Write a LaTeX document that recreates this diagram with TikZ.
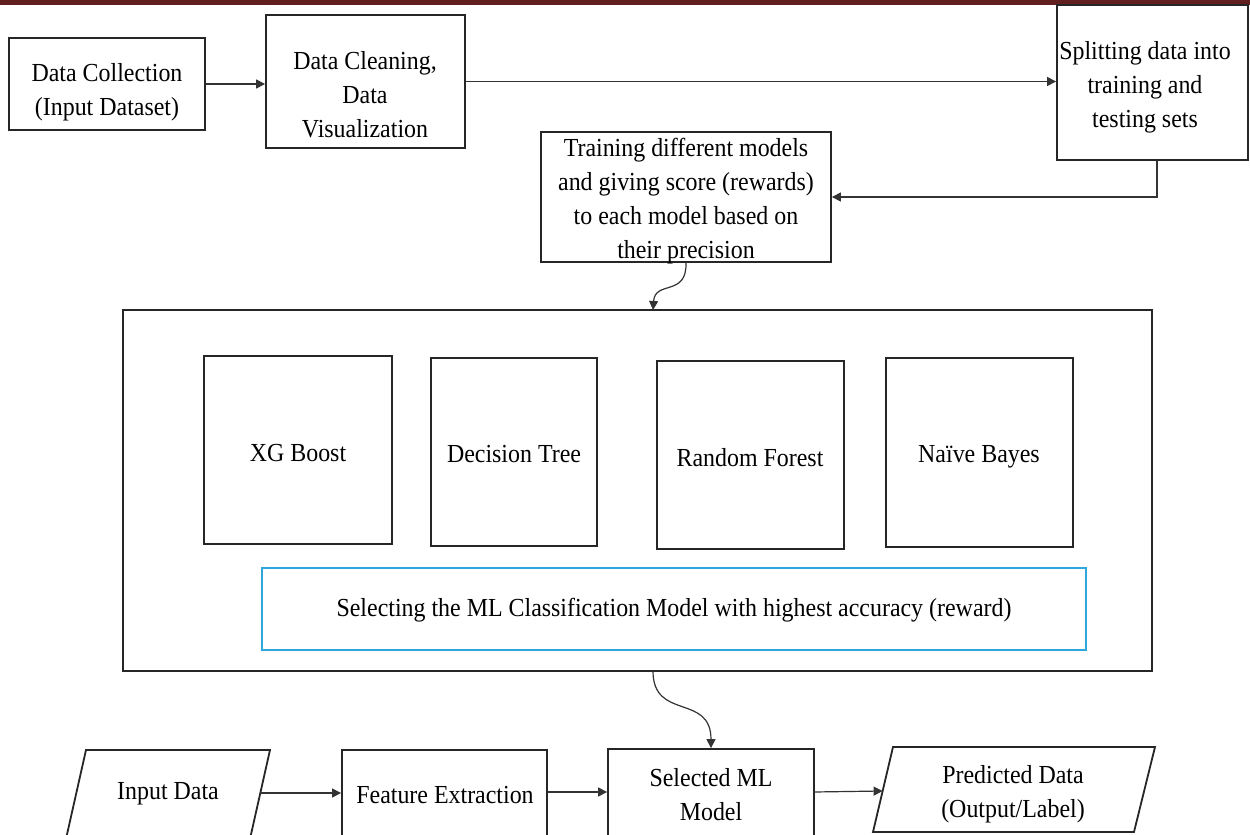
\documentclass[tikz,border=0pt]{standalone}
\usepackage{fontspec}
\setmainfont{Liberation Serif}
\usetikzlibrary{arrows.meta,fit}
\definecolor{barred}{HTML}{631F1F}
\definecolor{selblue}{HTML}{2FA6DC}
\begin{document}
\begin{tikzpicture}[x=0.5pt,y=-0.5pt,
  box/.style={draw=black!85, line width=0.9pt, inner sep=0pt},
  txt/.style={align=center, font=\rmfamily\fontsize{13}{17}\selectfont, inner sep=0pt,
              xscale=0.92, transform shape},
  link/.style={draw=black!80, line width=0.6pt, -{Triangle[length=4.5pt,width=4.5pt]}},
  slanted/.style={draw=black!85, line width=0.9pt},
]
\useasboundingbox (0,0) rectangle (1250,835);
% header band
\fill[barred] (0,0) rectangle (1250,5);

% top row
\node[box, fit={(9,38) (205,130)}] (A) {};
\node[txt] (tA) at (107,92) {Data Collection\\(Input Dataset)};
\node[box, fit={(266,15) (465,148)}] (B) {};
\node[txt] (tB) at (365,95) {Data Cleaning,\\Data\\Visualization};
\node[box, fit={(1057,5) (1248,160)}] (C) {};
\node[txt] (tC) at (1145,87) {Splitting data into\\training and\\testing sets};
\node[box, fit={(541,132) (831,262)}] (D) {};
\node[txt] (tD) at (686,201) {Training different models\\and giving score (rewards)\\to each model based on\\their precision};

% model comparison block
\node[box, fit={(123,310) (1152,671)}] (E) {};
\node[box, fit={(204,356) (392,544)}] (XG) {};
\node[txt] (tXG) at (298,453) {XG Boost};
\node[box, fit={(431,358) (597,546)}] (DT) {};
\node[txt] (tDT) at (514,454) {Decision Tree};
\node[box, fit={(657,361) (844,549)}] (RF) {};
\node[txt] (tRF) at (750,458) {Random Forest};
\node[box, fit={(886,358) (1073,547)}] (NB) {};
\node[txt] (tNB) at (979,457) {Naïve Bayes};
\node[box, draw=selblue, line width=0.7pt, fit={(262,568) (1086,650)}] (SEL) {};
\node[txt] (tSEL) at (674,610) {Selecting the ML Classification Model with highest accuracy (reward)};
\coordinate (Ein) at (653,310);
\coordinate (Eout) at (653,671);

% bottom row
\draw[slanted] (86,750) -- (270,750) -- (243,870) -- (59,870) -- cycle;
\node[txt] (tIn) at (168,794) {Input Data};
\coordinate (InR) at (260.4,793);
\node[box, fit={(342,750) (547,880)}] (F) {};
\node[txt] (tF) at (445,795) {Feature Extraction};
\node[box, fit={(608,749) (814,880)}] (S) {};
\node[txt] (tS) at (711,795) {Selected ML\\Model};
\draw[slanted] (893,747) -- (1155,747) -- (1134,832) -- (873,832) -- cycle;
\node[txt] (tP) at (1013,794) {Predicted Data\\(Output/Label)};
\coordinate (PL) at (882.6,791);
\coordinate (SR) at (814,792);
\coordinate (FR) at (547,792);

% connectors
\draw[link] (A.east) -- (A.east -| B.west);
\draw[link] (B.east) -- (B.east -| C.west);
\draw[link] ([xshift=2.2pt]C.south) |- (D.east);
\draw[link] (D.south) .. controls +(1,34) and +(2,-30) .. (Ein);
\draw[link] (Eout) .. controls +(0,50) and +(0,-55) .. (S.north);
\draw[link] (InR) -- (InR -| F.west);
\draw[link] (FR) -- (FR -| S.west);
\draw[link] (SR) -- (PL);
\end{tikzpicture}
\end{document}
